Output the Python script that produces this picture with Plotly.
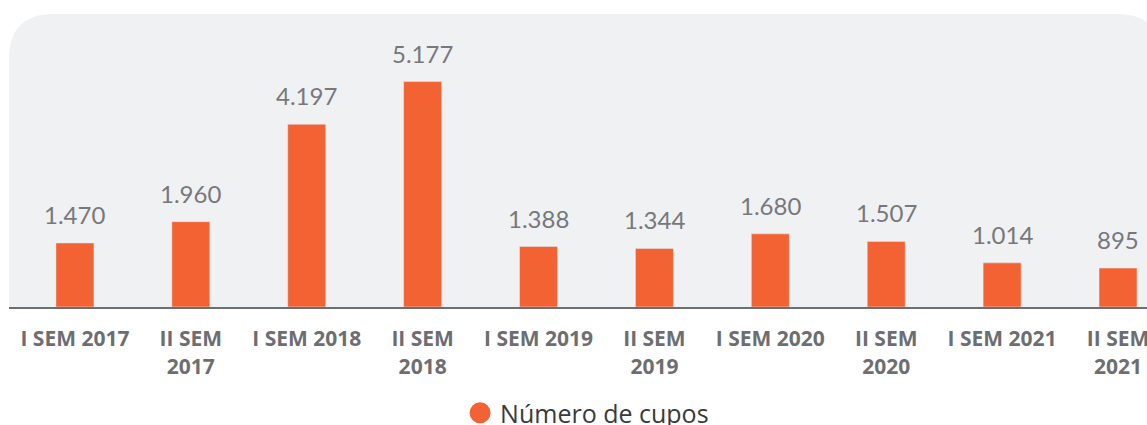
import plotly.graph_objects as go

categories = ["I SEM 2017", "II SEM<br>2017", "I SEM 2018", "II SEM<br>2018", "I SEM 2019",
              "II SEM<br>2019", "I SEM 2020", "II SEM<br>2020", "I SEM 2021", "II SEM<br>2021"]
values = [1470, 1960, 4197, 5177, 1388, 1344, 1680, 1507, 1014, 895]
value_labels = ["1.470", "1.960", "4.197", "5.177", "1.388", "1.344", "1.680", "1.507", "1.014", "895"]
series_name = "Número de cupos"

ORANGE = "#F26233"
GRAY_TXT = "#6D6E71"
VAL_TXT = "#77787B"
PANEL = "#F0F1F3"

W, H = 1147, 425
ml, mr, mt, mb = 9, 0, 14, 118
pw = W - ml - mr
ph = H - mt - mb

fig = go.Figure()
fig.add_trace(go.Bar(x=list(range(len(categories))), y=values, marker_color=ORANGE,
                     showlegend=False, hoverinfo="skip"))
fig.add_trace(go.Scatter(x=[None], y=[None], mode="markers", name=series_name,
                         marker=dict(symbol="circle", size=16, color=ORANGE,
                                     line=dict(color=ORANGE, width=5))))

for i, (v, t) in enumerate(zip(values, value_labels)):
    fig.add_annotation(x=i, y=v, text=t, showarrow=False, yanchor="bottom", yshift=12,
                       font=dict(family="Lato", size=24, color=VAL_TXT))

# rounded background panel
rx = 45 / pw
ry = 45 / ph
x0, x1, y0, y1 = 0, 1 + 15 / pw, 0, 1
path = (f"M {x0} {y0} L {x0} {y1-ry} Q {x0} {y1} {x0+rx} {y1} "
        f"L {x1-rx} {y1} Q {x1} {y1} {x1} {y1-ry} L {x1} {y0} Z")
fig.add_shape(type="path", path=path, xref="paper", yref="paper",
              fillcolor=PANEL, line=dict(width=0), layer="below")

fig.update_layout(
    width=W, height=H,
    margin=dict(l=ml, r=mr, t=mt, b=mb, autoexpand=False),
    paper_bgcolor="white", plot_bgcolor="rgba(0,0,0,0)",
    bargap=0.672,
    showlegend=True,
    legend=dict(orientation="h", x=0.508, xanchor="center", yref="paper", y=-0.362,
                yanchor="middle", font=dict(family="Open Sans", size=25, color="#3A3A3C"),
                bgcolor="rgba(0,0,0,0)"),
    xaxis=dict(range=[-0.569, 9.25], tickmode="array", tickvals=list(range(len(categories))),
               ticktext=categories, showgrid=False, zeroline=False,
               showline=True, linecolor="#6D6E71", linewidth=2,
               ticks="outside", ticklen=12, tickcolor="rgba(0,0,0,0)",
               ticklabeloverflow="allow", automargin=False,
               tickfont=dict(family="Open Sans", size=21, color=GRAY_TXT, weight="bold")),
    yaxis=dict(range=[0, 6729], visible=False, showgrid=False, zeroline=False),
)

fig.write_html("out.html", post_script="document.body.style.margin='0';",
               config={"displayModeBar": False})
